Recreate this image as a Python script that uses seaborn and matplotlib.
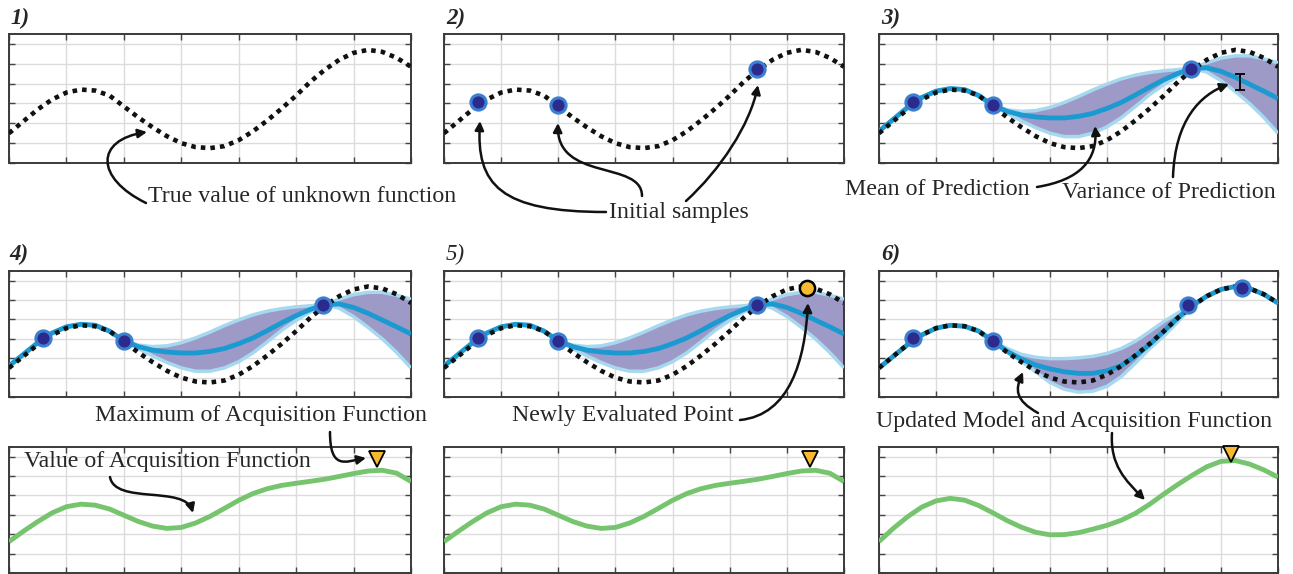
import numpy as np
import pandas as pd
import seaborn as sns
import matplotlib.pyplot as plt
from matplotlib.patches import FancyArrowPatch
from matplotlib.path import Path

sns.set_style("white")
plt.rcParams['font.family'] = ['Liberation Serif', 'DejaVu Serif']
plt.rcParams['lines.solid_joinstyle'] = 'round'
plt.rcParams['lines.solid_capstyle'] = 'butt'

# Datos (x en [0, 7], y en [0, 6.5])
x_vals = [0.0, 0.25, 0.5, 0.75, 1.0, 1.25, 1.5, 1.75, 2.0, 2.25, 2.5, 2.75, 3.0, 3.25,
          3.5, 3.75, 4.0, 4.25, 4.5, 4.75, 5.0, 5.25, 5.5, 5.75, 6.0, 6.25, 6.5, 6.75, 7.0]

funcion_real = [1.5, 2.1, 2.7, 3.2, 3.55, 3.7, 3.65, 3.4, 2.85, 2.3, 1.8, 1.35, 1.0, 0.8,
                0.75, 0.85, 1.15, 1.6, 2.15, 2.75, 3.4, 4.1, 4.7, 5.2, 5.55, 5.7, 5.6, 5.3, 4.85]

# modelo con 3 muestras (paneles 3, 4, 5)
media_a = [1.6, 2.2, 2.8, 3.3, 3.62, 3.75, 3.7, 3.4, 2.9, 2.6, 2.42, 2.32, 2.27, 2.27,
           2.35, 2.5, 2.75, 3.05, 3.43, 3.83, 4.2, 4.52, 4.76, 4.8, 4.62, 4.32, 3.97, 3.62, 3.25]
sup_a = [1.62, 2.22, 2.82, 3.32, 3.64, 3.77, 3.72, 3.43, 2.9, 2.68, 2.6, 2.64, 2.8, 3.05,
         3.35, 3.68, 3.98, 4.24, 4.43, 4.56, 4.65, 4.71, 4.78, 5.05, 5.28, 5.4, 5.4, 5.25, 5.05]
inf_a = [1.58, 2.18, 2.78, 3.28, 3.6, 3.73, 3.68, 3.37, 2.9, 2.5, 2.12, 1.78, 1.5, 1.33,
         1.33, 1.5, 1.82, 2.28, 2.85, 3.45, 3.95, 4.4, 4.76, 4.58, 4.15, 3.6, 3.0, 2.3, 1.5]

# modelo con 4 muestras (panel 6)
media_b = [1.5, 2.1, 2.7, 3.2, 3.55, 3.7, 3.65, 3.4, 2.88, 2.35, 1.95, 1.65, 1.45, 1.3,
           1.22, 1.22, 1.35, 1.62, 2.12, 2.72, 3.4, 4.1, 4.72, 5.2, 5.55, 5.7, 5.6, 5.3, 4.85]
sup_b = [1.5, 2.1, 2.7, 3.2, 3.55, 3.7, 3.65, 3.4, 2.88, 2.5, 2.2, 2.05, 1.98, 1.98,
         2.02, 2.1, 2.25, 2.5, 2.88, 3.38, 3.9, 4.35, 4.74, 5.2, 5.55, 5.7, 5.6, 5.3, 4.85]
inf_b = [1.5, 2.1, 2.7, 3.2, 3.55, 3.7, 3.65, 3.4, 2.88, 2.3, 1.85, 1.3, 0.75, 0.4,
         0.25, 0.3, 0.55, 1.05, 1.75, 2.5, 3.15, 3.9, 4.7, 5.2, 5.55, 5.7, 5.6, 5.3, 4.85]

# funcion de adquisicion
adq_a = [1.62, 2.15, 2.65, 3.1, 3.42, 3.55, 3.5, 3.3, 2.98, 2.66, 2.42, 2.3, 2.35, 2.58,
         2.92, 3.33, 3.75, 4.1, 4.35, 4.52, 4.63, 4.73, 4.84, 4.98, 5.13, 5.26, 5.3, 5.15, 4.72]
adq_b = [1.62, 2.3, 2.9, 3.4, 3.72, 3.85, 3.76, 3.48, 3.1, 2.7, 2.36, 2.1, 1.97, 1.98,
         2.08, 2.26, 2.46, 2.72, 3.08, 3.55, 4.08, 4.58, 5.05, 5.48, 5.76, 5.8, 5.62, 5.32, 4.95]

muestras_x = [0.6, 2.0, 5.47]
muestras_y = [3.05, 2.9, 4.75]
nuevo_x = [6.36]
nuevo_y = [5.6]
muestras6_x = [0.6, 2.0, 5.42, 6.36]
muestras6_y = [3.05, 2.9, 4.75, 5.62]

max_adq_a = (6.4, 5.9)
max_adq_b = (6.17, 6.15)
varianza_x, varianza_y, varianza_err = 6.33, 4.1, 0.4

df = pd.DataFrame({'x': x_vals, 'real': funcion_real, 'media_a': media_a, 'sup_a': sup_a,
                   'inf_a': inf_a, 'media_b': media_b, 'sup_b': sup_b, 'inf_b': inf_b,
                   'adq_a': adq_a, 'adq_b': adq_b})

# Colores
c_media = '#1b9ad2'
c_borde = '#a6d9f0'
c_relleno = '#9d9ac8'
c_verde = '#77c46f'
c_amarillo = '#f8b830'

W, H = 1293, 574
fig = plt.figure(figsize=(W / 100, H / 100), dpi=100)


def ejes(x0, y0, ancho, alto):
    ax = fig.add_axes([x0 / W, 1 - (y0 + alto) / H, ancho / W, alto / H])
    ax.set_xlim(0, 7)
    ax.set_ylim(0, 6.5)
    ax.set_xticks(range(8))
    ax.set_yticks(range(7))
    ax.tick_params(direction='in', length=4, width=1, top=True, right=True,
                   bottom=True, left=True, labelbottom=False, labelleft=False,
                   color='#444444')
    ax.grid(True, color='#dcdcdc', lw=1)
    for s in ax.spines.values():
        s.set_color('#3a3a3a')
        s.set_linewidth(1.4)
    return ax


def real(ax):
    sns.lineplot(data=df, x='x', y='real', ax=ax, color='#111111', lw=3.3,
                 linestyle=(0, (1, 1.1)), zorder=5)


def modelo(ax, m, s, i):
    ax.fill_between(df['x'], df[i], df[s], color=c_relleno, lw=0, zorder=2)
    sns.lineplot(data=df, x='x', y=s, ax=ax, color=c_borde, lw=2.5, zorder=3)
    sns.lineplot(data=df, x='x', y=i, ax=ax, color=c_borde, lw=2.5, zorder=3)
    sns.lineplot(data=df, x='x', y=m, ax=ax, color=c_media, lw=3.5, zorder=4)


def puntos(ax, xs, ys):
    sns.scatterplot(x=xs, y=ys, ax=ax, s=120, color='#2c2a8c', edgecolor='#3b7fd0',
                    linewidth=2.2, zorder=6)


def adquisicion(ax, col, maximo):
    sns.lineplot(data=df, x='x', y=col, ax=ax, color=c_verde, lw=3.5, zorder=4)
    ax.plot([maximo[0]], [maximo[1]], marker='v', ms=11, color=c_amarillo,
            mec='black', mew=1.3, zorder=6, clip_on=False)


def limpiar(ax):
    ax.set_xlabel('')
    ax.set_ylabel('')


cols = [(9, 402), (444, 400), (879, 399)]

# Fila superior
ax1 = ejes(cols[0][0], 34, cols[0][1], 129)
real(ax1)
ax2 = ejes(cols[1][0], 34, cols[1][1], 129)
real(ax2)
puntos(ax2, muestras_x, muestras_y)
ax3 = ejes(cols[2][0], 34, cols[2][1], 129)
modelo(ax3, 'media_a', 'sup_a', 'inf_a')
real(ax3)
puntos(ax3, muestras_x, muestras_y)
ax3.errorbar([varianza_x], [varianza_y], yerr=[varianza_err], color='black', lw=1.3,
             capsize=3.5, capthick=1.3, zorder=7)

# Fila inferior
ax4 = ejes(cols[0][0], 271, cols[0][1], 126)
modelo(ax4, 'media_a', 'sup_a', 'inf_a')
real(ax4)
puntos(ax4, muestras_x, muestras_y)
ax4b = ejes(cols[0][0], 447, cols[0][1], 126)
adquisicion(ax4b, 'adq_a', max_adq_a)

ax5 = ejes(cols[1][0], 271, cols[1][1], 126)
modelo(ax5, 'media_a', 'sup_a', 'inf_a')
real(ax5)
puntos(ax5, muestras_x, muestras_y)
sns.scatterplot(x=nuevo_x, y=nuevo_y, ax=ax5, s=120, color=c_amarillo, edgecolor='black',
                linewidth=1.8, zorder=7, clip_on=False)
ax5b = ejes(cols[1][0], 447, cols[1][1], 126)
adquisicion(ax5b, 'adq_a', max_adq_a)

ax6 = ejes(cols[2][0], 271, cols[2][1], 126)
modelo(ax6, 'media_b', 'sup_b', 'inf_b')
real(ax6)
puntos(ax6, muestras6_x, muestras6_y)
ax6b = ejes(cols[2][0], 447, cols[2][1], 126)
adquisicion(ax6b, 'adq_b', max_adq_b)

for ax in [ax1, ax2, ax3, ax4, ax4b, ax5, ax5b, ax6, ax6b]:
    limpiar(ax)

# Etiquetas de panel
etiquetas = [('1)', 10, 18, True), ('2)', 446, 18, True), ('3)', 881, 18, True),
             ('4)', 9, 254, True), ('5)', 446, 254, False), ('6)', 881, 254, True)]
for txt, px, py, negrita in etiquetas:
    fig.text(px / W, 1 - py / H, txt, fontsize=16.5, style='italic',
             weight='bold' if negrita else 'normal', va='center', ha='left')

# Textos
textos = [('True value of unknown function', 148, 197),
          ('Initial samples', 609, 213),
          ('Mean of Prediction', 845, 190),
          ('Variance of Prediction', 1062, 193),
          ('Maximum of Acquisition Function', 95, 415),
          ('Value of Acquisition Function', 24, 462),
          ('Newly Evaluated Point', 512, 416),
          ('Updated Model and Acquisition Function', 876, 421)]
for txt, px, py in textos:
    fig.text(px / W, 1 - py / H, txt, fontsize=17.2, va='center', ha='left', zorder=10)


def flecha(p0, c1, c2, p1):
    pts = [(p[0] / W, 1 - p[1] / H) for p in (p0, c1, c2, p1)]
    camino = Path(pts, [Path.MOVETO, Path.CURVE4, Path.CURVE4, Path.CURVE4])
    fl = FancyArrowPatch(path=camino, arrowstyle='-|>', mutation_scale=13, lw=1.8,
                         color='#111111', transform=fig.transFigure, zorder=10)
    fig.add_artist(fl)


flecha((146, 203), (95, 178), (95, 140), (147, 132))
flecha((606, 212), (500, 212), (476, 185), (480, 121))
flecha((642, 196), (642, 160), (556, 182), (558, 123))
flecha((686, 201), (720, 170), (750, 125), (758, 85))
flecha((1037, 187), (1080, 180), (1098, 160), (1095, 126))
flecha((1173, 177), (1175, 120), (1200, 95), (1229, 84))
flecha((330, 432), (330, 470), (345, 462), (366, 458))
flecha((110, 477), (115, 505), (185, 485), (193, 513))
flecha((740, 420), (790, 415), (805, 360), (808, 303))
flecha((1038, 413), (1015, 400), (1015, 390), (1023, 372))
flecha((1112, 433), (1110, 465), (1125, 480), (1145, 500))

fig.savefig('out.png', dpi=100)
